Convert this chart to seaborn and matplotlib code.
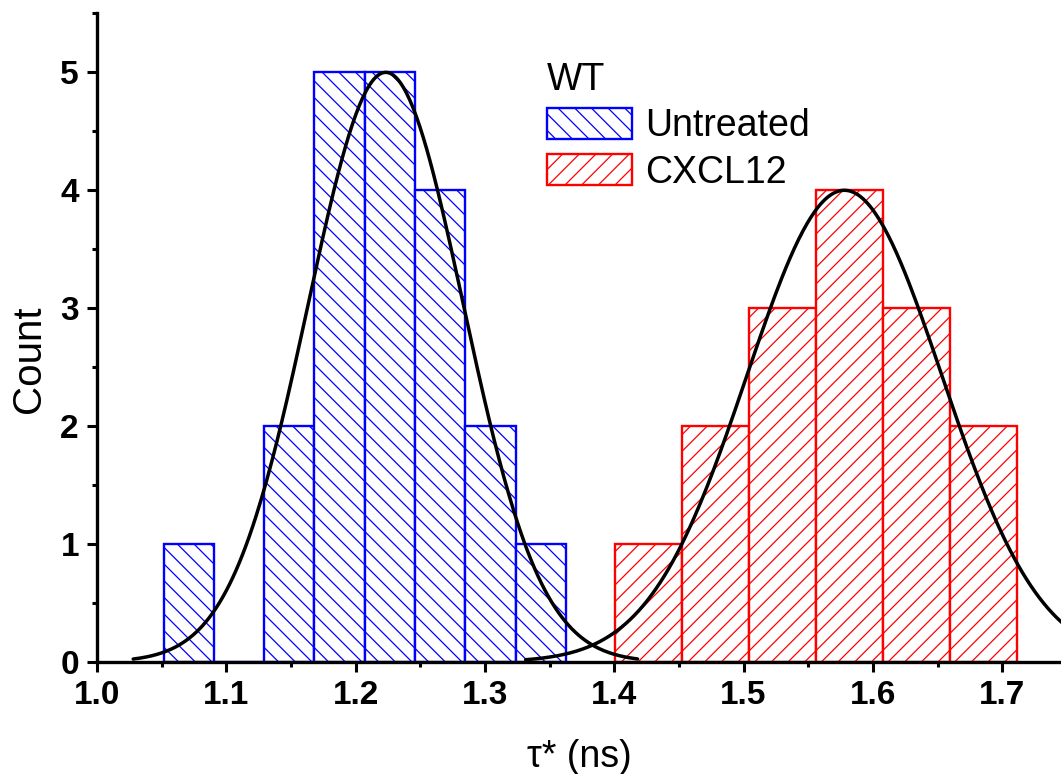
import numpy as np
import matplotlib
matplotlib.use("Agg")
import matplotlib.pyplot as plt
from matplotlib.patches import Patch
from matplotlib.ticker import MultipleLocator, FormatStrFormatter
import seaborn as sns

# ---- data ----
untreated_edges = [1.0515, 1.0904, 1.1293, 1.1682, 1.2071, 1.2460, 1.2849, 1.3238, 1.3627]
untreated_counts = [1, 0, 2, 5, 5, 4, 2, 1]
cxcl12_edges = [1.4003, 1.4522, 1.5041, 1.5560, 1.6079, 1.6598, 1.7117]
cxcl12_counts = [1, 2, 3, 4, 3, 2]

# Gaussian fit parameters (amplitude, centre, width, x-range of drawn curve)
untreated_fit = dict(amp=5.0, mu=1.2233, sigma=0.060, x0=1.028, x1=1.418)
cxcl12_fit = dict(amp=4.0, mu=1.578, sigma=0.0755, x0=1.3315, x1=1.8245)

legend_title = "WT"
series_labels = ["Untreated", "CXCL12"]
x_label = "τ* (ns)"
y_label = "Count"

# ---- style ----
sns.set_theme(style="ticks")
plt.rcParams["font.family"] = ["Liberation Sans", "DejaVu Sans"]
plt.rcParams["hatch.linewidth"] = 0.9
plt.rcParams["axes.linewidth"] = 2.4
plt.rcParams["text.color"] = "black"
plt.rcParams["axes.labelcolor"] = "black"

BLUE = "#0000FF"
RED = "#FF0000"

fig = plt.figure(figsize=(10.61, 7.74), dpi=100)
ax = fig.add_axes([0.0914, 0.1447, 0.9086, 0.838])


def centers(edges):
    e = np.asarray(edges)
    return (e[:-1] + e[1:]) / 2


sns.histplot(x=centers(untreated_edges), weights=untreated_counts, bins=untreated_edges,
             fill=True, facecolor="white", edgecolor=BLUE, hatch="\\\\",
             linewidth=1.7, ax=ax)
sns.histplot(x=centers(cxcl12_edges), weights=cxcl12_counts, bins=cxcl12_edges,
             fill=True, facecolor="white", edgecolor=RED, hatch="//",
             linewidth=1.7, ax=ax)


def gauss_curve(p, n=300):
    xs = np.linspace(p["x0"], p["x1"], n)
    ys = p["amp"] * np.exp(-((xs - p["mu"]) ** 2) / (2 * p["sigma"] ** 2))
    return xs, ys


for p in (untreated_fit, cxcl12_fit):
    xs, ys = gauss_curve(p)
    sns.lineplot(x=xs, y=ys, color="black", linewidth=2.5, ax=ax, sort=False)

ax.set_xlim(1.0, 1.7455)
ax.set_ylim(0, 5.5)
ax.xaxis.set_major_locator(MultipleLocator(0.1))
ax.xaxis.set_minor_locator(MultipleLocator(0.05))
ax.yaxis.set_major_locator(MultipleLocator(1))
ax.yaxis.set_minor_locator(MultipleLocator(0.5))
ax.xaxis.set_major_formatter(FormatStrFormatter("%.1f"))
ax.tick_params(which="major", direction="out", length=7, width=2.2, colors="black",
               labelsize=24, pad=6)
ax.tick_params(which="minor", direction="out", length=3.5, width=2.2, colors="black")
for lab in ax.get_xticklabels() + ax.get_yticklabels():
    lab.set_fontweight("bold")

sns.despine(ax=ax, top=True, right=True)
for s in ("left", "bottom"):
    ax.spines[s].set_color("black")
    ax.spines[s].set_linewidth(2.4)

ax.set_xlabel(x_label, fontsize=27, labelpad=20, color="black")
ax.set_ylabel(y_label, fontsize=29, color="black")
ax.yaxis.set_label_coords(-0.0505, 0.466)

handles = [Patch(facecolor="white", edgecolor=BLUE, hatch="\\\\", linewidth=1.7),
           Patch(facecolor="white", edgecolor=RED, hatch="//", linewidth=1.7)]
leg = ax.legend(handles=handles, labels=series_labels, title=legend_title,
                loc="upper left", bbox_to_anchor=(0.5155, 0.92),
                bbox_transform=fig.transFigure, frameon=False,
                fontsize=27, title_fontsize=27, alignment="left",
                handlelength=2.27, handleheight=0.88, handletextpad=0.35,
                labelspacing=0.27, borderpad=0, borderaxespad=0)

fig.savefig("out.png", dpi=100)
